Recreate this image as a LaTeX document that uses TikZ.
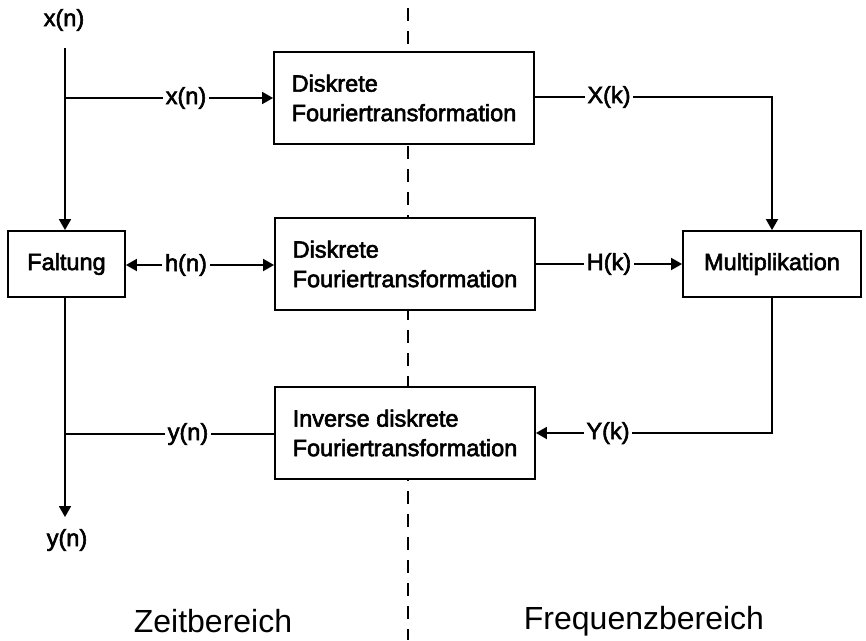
\documentclass[tikz,border=0pt]{standalone}
\usepackage{fontspec}
\setmainfont{Liberation Sans}
\newfontface\medfont{Liberation Sans}[FakeBold=2.5]
\usetikzlibrary{arrows.meta}
\begin{document}
\begin{tikzpicture}[x=1pt,y=-1pt,
  line width=1.8pt,
  every node/.style={font=\medfont\fontsize{23.5}{29.5}\selectfont},
  blk/.style={draw,fill=white,line width=1.8pt,minimum width=260pt,minimum height=92pt,align=left,inner sep=0pt},
  sblk/.style={draw,fill=white,line width=1.8pt,minimum height=66pt,inner sep=0pt},
  lbl/.style={inner sep=2pt},
  arr/.style={-{Triangle[length=11pt,width=12pt]}},
  bigl/.style={font=\rmfamily\fontsize{32}{38}\selectfont}]
\useasboundingbox (0,0) rectangle (866,640);
% divider
\draw[line width=1.6pt,dash pattern=on 13pt off 10pt] (408,8) -- (408,640);
% blocks
\node[blk] (dft1) at (404,98) {Diskrete\\Fouriertransformation};
\node[blk] (dft2) at (405,264) {Diskrete\\Fouriertransformation};
\node[blk] (idft) at (405,433) {Inverse diskrete\\Fouriertransformation};
\node[sblk,minimum width=117pt] (falt) at (66.5,264) {Faltung};
\node[sblk,minimum width=178pt] (mult) at (772,264) {Multiplikation};
% labels
\node[lbl] (xin) at (64,20) {x(n)};
\node[lbl] (lx) at (186,98) {x(n)};
\node[lbl] (lh) at (186,265) {h(n)};
\node[lbl] (ly) at (188,434) {y(n)};
\node[lbl] (yout) at (67,540) {y(n)};
\node[lbl] (lX) at (609,97) {X(k)};
\node[lbl] (lH) at (609,264) {H(k)};
\node[lbl] (lY) at (608,433) {Y(k)};
\node[bigl] (zeit) at (213,621) {Zeitbereich};
\node[bigl] (freq) at (644,621) {Frequenzbereich};
% coordinates
\coordinate (top) at (65,48);
\coordinate (j1) at (65,98);
\coordinate (j2) at (65,434);
\coordinate (bot) at (65,517);
% connectors
\draw[arr] (top) -- (falt.north -| top);
\draw (j1) -- (lx.west);
\draw[arr] (lx.east) -- (dft1.west |- lx.east);
\draw (dft1.east |- lX.west) -- (lX.west);
\draw[arr] (lX.east) -| (mult.north);
\draw (dft2.east |- lH.west) -- (lH.west);
\draw[arr] (lH.east) -- (mult.west |- lH.east);
\draw[arr] (lh.west) -- (falt.east |- lh.west);
\draw[arr] (lh.east) -- (dft2.west |- lh.east);
\draw (mult.south) |- (lY.east);
\draw[arr] (lY.west) -- (idft.east |- lY.west);
\draw (idft.west |- ly.east) -- (ly.east);
\draw (ly.west) -- (j2);
\draw[arr] (falt.south -| top) -- (bot);
\end{tikzpicture}
\end{document}
